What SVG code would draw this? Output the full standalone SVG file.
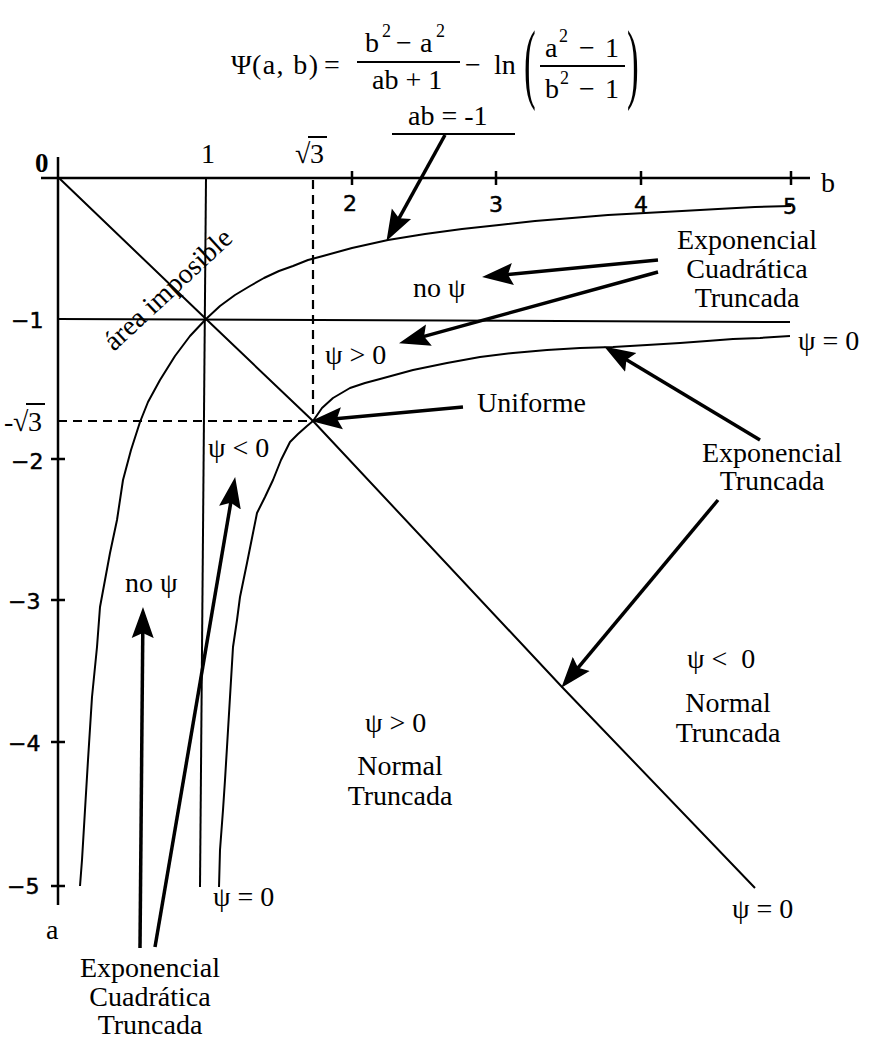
<svg xmlns="http://www.w3.org/2000/svg" width="880" height="1041" viewBox="0 0 880 1041">
<defs>
<style>
.t{font-family:"Liberation Serif","Times New Roman",serif;font-size:28px;fill:#000}
.c{text-anchor:middle}
.ax{font-family:"DejaVu Sans","Liberation Sans",sans-serif;font-size:22px;fill:#000;stroke:#000;stroke-width:0.5}
.f{font-family:"Liberation Serif","Times New Roman",serif;font-size:28px;fill:#000}
.sup{font-size:18px}
.axis{stroke:#000;stroke-width:2.5;fill:none}
.ln{stroke:#000;stroke-width:2;fill:none;stroke-linejoin:round}
.dash{stroke:#000;stroke-width:2.2;stroke-dasharray:9 6;fill:none}
.arr{stroke:#000;stroke-width:3.5;fill:none;marker-end:url(#ah)}
</style>
<marker id="ah" viewBox="0 -12 31 24" refX="20" refY="0" markerWidth="31" markerHeight="24" markerUnits="userSpaceOnUse" orient="auto"><path d="M0,-11 L31,0 L0,11 L5,0 z" fill="#000"/></marker>
</defs>
<rect width="880" height="1041" fill="#fff"/>

<g id="formula" class="f">
<text x="231" y="74">Ψ</text>
<text x="252" y="74" textLength="66">(a, b)</text>
<text x="324" y="74">=</text>
<text x="365" y="52">b</text><text class="sup" x="382" y="37">2</text>
<text x="396" y="52">−</text>
<text x="420" y="52">a</text><text class="sup" x="436" y="37">2</text>
<line class="ln" x1="357" y1="62" x2="460" y2="62"/>
<text x="372" y="89">ab + 1</text>
<text x="465" y="74">−</text>
<text x="494" y="74">ln</text>
<text font-size="88" transform="translate(524,92) scale(0.4,1)">(</text>
<text font-size="88" transform="translate(627,92) scale(0.4,1)">)</text>
<text x="545" y="57">a</text><text class="sup" x="559" y="42">2</text>
<text x="579" y="57">−</text>
<text x="605" y="57">1</text>
<line class="ln" x1="540" y1="66" x2="625" y2="66"/>
<text x="545" y="98">b</text><text class="sup" x="560" y="84">2</text>
<text x="579" y="98">−</text>
<text x="605" y="98">1</text>
</g>

<g id="axes">
<path class="axis" d="M41,178 H810 M58,157 V905"/>
<path class="axis" d="M352,171 V185 M496,171 V185 M641,171 V185 M791,171 V185 M51,459 H65 M51,600 H65 M51,742 H65 M51,886 H65"/>
<text x="35" y="172" font-family="Liberation Serif,serif" font-size="27" font-weight="bold">0</text>
<text class="t" x="201" y="163" font-size="25">1</text>
<text class="t" x="295" y="163" font-size="25">√</text><text class="t" x="310" y="163" font-size="25">3</text>
<line class="ln" x1="308" y1="137" x2="327" y2="137"/>
<text class="ax c" x="350" y="211">2</text>
<text class="ax c" x="496" y="212">3</text>
<text class="ax c" x="641" y="212">4</text>
<text class="ax c" x="790" y="214">5</text>
<text class="t" x="821" y="192">b</text>
<text class="ax" x="11" y="328">−1</text>
<text class="t" x="4" y="431" font-size="26">-</text><text class="t" x="13" y="431" font-size="26">√</text><text class="t" x="28" y="431" font-size="26">3</text>
<line class="ln" x1="26" y1="404" x2="45" y2="404"/>
<text class="ax" x="11" y="469">−2</text>
<text class="ax" x="8" y="609">−3</text>
<text class="ax" x="8" y="751">−4</text>
<text class="ax" x="7" y="894">−5</text>
<text class="t" x="46" y="939" font-size="27">a</text>
</g>

<g id="lines">
<path class="ln" d="M58,319 L790,322"/>
<path class="ln" d="M206,178 L200,887"/>
<polyline class="ln" points="59,178 206,319 313,421 562,687 755,888"/>
<path class="dash" d="M313,180 V421 M58,421 H313"/>
</g>

<g id="curve-ab">
<polyline class="ln" points="80,886 82,860 85,810 88,760 92,697 97,647 100,607 105,580 110,553 117,520 123,480 131,450 140,422 148,402 160,380 175,356 190,336 206,319 220,306 235,295 250,286 264,278 279,271 293,266 308,260 323,256 352,248 388,240 425,234 462,229 499,225 535,221 572,218 608,215 645,213 682,211 718,209 755,207 791,206"/>
</g>

<g id="curve-psi0">
<polyline class="ln" points="219,887 220,850 223,810 225,780 227,747 230,697 233,647 237,620 240,597 247,563 252,538 257,513 265,497 273,480 281,460 290,442 298,434 307,426 313,421 322,408 333,398 350,388 365,383 380,379 413,370 447,363 480,357 513,353 547,350 580,348 613,347 647,345 680,343 707,341 733,339 760,338 790,336"/>
</g>

<g id="label-ab">
<text class="t" x="408" y="125">ab = -1</text>
<line class="ln" x1="392" y1="134" x2="515" y2="134"/>
</g>

<g id="label-imposible">
<text class="t" font-size="29" transform="translate(114,352) rotate(-43)">área imposible</text>
</g>

<g id="label-ect-top">
<text class="t c" x="747" y="249">Exponencial</text>
<text class="t c" x="747" y="278">Cuadrática</text>
<text class="t c" x="747" y="307">Truncada</text>
</g>

<g id="label-nopsi-top"><text class="t" x="413" y="297">no ψ</text></g>
<g id="label-psipos-top"><text class="t" x="325" y="364">ψ &gt; 0</text></g>
<g id="label-uniforme"><text class="t" x="477" y="412">Uniforme</text></g>
<g id="label-psi0-right"><text class="t" x="798" y="350">ψ = 0</text></g>

<g id="label-et-mid">
<text class="t c" x="772" y="462">Exponencial</text>
<text class="t c" x="772" y="490">Truncada</text>
</g>

<g id="label-psineg-left"><text class="t" x="208" y="457">ψ &lt; 0</text></g>
<g id="label-nopsi-left"><text class="t" x="125" y="592">no ψ</text></g>
<g id="label-psi0-bottom"><text class="t" x="213" y="906">ψ = 0</text></g>

<g id="label-ect-bottom">
<text class="t c" x="150" y="977">Exponencial</text>
<text class="t c" x="150" y="1006">Cuadrática</text>
<text class="t c" x="150" y="1034">Truncada</text>
</g>

<g id="label-normal-mid">
<text class="t" x="365" y="732">ψ &gt; 0</text>
<text class="t c" x="400" y="775">Normal</text>
<text class="t c" x="400" y="805">Truncada</text>
</g>

<g id="label-normal-right">
<text class="t" x="687" y="668" xml:space="preserve">ψ &lt;  0</text>
<text class="t c" x="728" y="712">Normal</text>
<text class="t c" x="728" y="742">Truncada</text>
</g>

<g id="label-psi0-br"><text class="t" x="732" y="918">ψ = 0</text></g>

<g id="connectors">
<line class="arr" x1="445" y1="135" x2="391.8" y2="231.3"/>
<line class="arr" x1="658" y1="260" x2="493" y2="276"/>
<line class="arr" x1="658" y1="272" x2="409.6" y2="340.4"/>
<line class="arr" x1="463" y1="407" x2="322" y2="420.1"/>
<line class="arr" x1="760" y1="440" x2="613.6" y2="352.1"/>
<line class="arr" x1="718" y1="500" x2="568.4" y2="679.3"/>
<line class="arr" x1="140" y1="948" x2="142.9" y2="618"/>
<line class="arr" x1="155" y1="947" x2="233.3" y2="487.9"/>
</g>
</svg>
